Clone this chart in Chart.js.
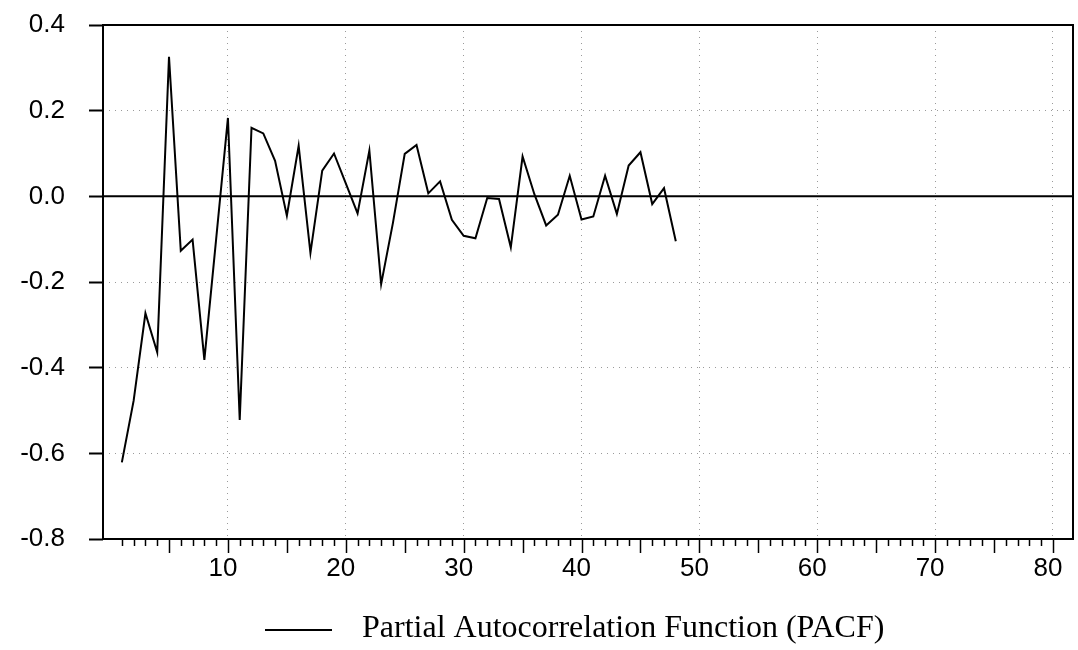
<!DOCTYPE html>
<html lang="en">
<head>
  <meta charset="UTF-8" />
  <title>PACF</title>
  <script src="https://cdn.jsdelivr.net/npm/chart.js"></script>
  <style>
    body {
      margin: 0;
      padding: 0;
      background: #fff;
    }
    #pacfChart {
      display: block;
    }
  </style>
</head>
<body>
  <canvas id="pacfChart" width="1078" height="650"></canvas>

  <script>
    // Lags and partial autocorrelation values
    const lags = [1, 2, 3, 4, 5, 6, 7, 8, 9, 10, 11, 12, 13, 14, 15, 16, 17, 18, 19, 20, 21, 22, 23, 24,
                  25, 26, 27, 28, 29, 30, 31, 32, 33, 34, 35, 36, 37, 38, 39, 40, 41, 42, 43, 44, 45, 46, 47, 48];
    const pacf = [-0.621, -0.477, -0.273, -0.364, 0.326, -0.127, -0.101, -0.382, -0.100, 0.183,
                  -0.522, 0.160, 0.147, 0.083, -0.045, 0.118, -0.132, 0.060, 0.100, 0.030,
                  -0.040, 0.107, -0.205, -0.062, 0.099, 0.120, 0.007, 0.035, -0.055, -0.092,
                  -0.098, -0.004, -0.006, -0.119, 0.093, 0.005, -0.068, -0.043, 0.048, -0.054,
                  -0.047, 0.048, -0.041, 0.072, 0.103, -0.018, 0.019, -0.105];
    const xTickLabels = [10, 20, 30, 40, 50, 60, 70, 80];
    const seriesLabel = 'Partial Autocorrelation Function (PACF)';

    const GRID = '#9a9a9a';
    const SANS = "'Liberation Sans', Arial, sans-serif";
    const SERIF = "'Liberation Serif', 'Times New Roman', serif";

    // frame, zero line and the small x tick marks
    const framePlugin = {
      id: 'frame',
      beforeDatasetsDraw(chart) {
        const { ctx, chartArea: a, scales: { y } } = chart;
        const y0 = y.getPixelForValue(0);
        ctx.save();
        ctx.strokeStyle = '#000';
        ctx.lineWidth = 2;
        ctx.beginPath();
        ctx.moveTo(a.left, y0);
        ctx.lineTo(a.right, y0);
        ctx.stroke();
        ctx.restore();
      },
      afterDatasetsDraw(chart) {
        const { ctx, chartArea: a, scales: { x } } = chart;
        ctx.save();
        ctx.strokeStyle = '#000';
        ctx.lineWidth = 2;
        ctx.strokeRect(a.left, a.top, a.right - a.left, a.bottom - a.top);
        ctx.lineWidth = 1.5;
        x.ticks.forEach(t => {
          const px = Math.round(x.getPixelForValue(t.value)) + 0.5;
          const len = t.value % 5 === 0 ? 14 : 7;
          ctx.beginPath();
          ctx.moveTo(px, a.bottom);
          ctx.lineTo(px, a.bottom + len);
          ctx.stroke();
        });
        ctx.restore();
      }
    };

    // legend drawn under the axis
    const legendPlugin = {
      id: 'pacfLegend',
      afterDraw(chart) {
        const { ctx, chartArea: a } = chart;
        const ds = chart.data.datasets[0];
        const x0 = a.left + 162;
        ctx.save();
        ctx.strokeStyle = ds.borderColor;
        ctx.lineWidth = 1.8;
        ctx.beginPath();
        ctx.moveTo(x0, 630);
        ctx.lineTo(x0 + 67, 630);
        ctx.stroke();
        ctx.fillStyle = '#000';
        ctx.font = '32px ' + SERIF;
        ctx.textBaseline = 'alphabetic';
        ctx.fillText(ds.label, x0 + 97, 637);
        ctx.restore();
      }
    };

    const ctx = document.getElementById('pacfChart').getContext('2d');
    new Chart(ctx, {
      type: 'line',
      data: {
        datasets: [{
          label: seriesLabel,
          data: lags.map((l, i) => ({ x: l, y: pacf[i] })),
          borderColor: '#000',
          borderWidth: 2,
          pointRadius: 0,
          tension: 0,
          fill: false
        }]
      },
      options: {
        responsive: false,
        animation: false,
        layout: { padding: { top: 25, right: 5, left: 0, bottom: 0 } },
        plugins: {
          legend: { display: false },
          tooltip: { enabled: false }
        },
        scales: {
          x: {
            type: 'linear',
            min: -0.6,
            max: 81.7,
            afterBuildTicks: scale => {
              const t = [];
              for (let i = 1; i <= 80; i++) t.push({ value: i });
              scale.ticks = t;
            },
            afterFit: scale => {
              scale.height = 111;
              scale.paddingLeft = 0;
              scale.paddingRight = 0;
            },
            grid: {
              drawTicks: false,
              lineWidth: 1,
              color: c => (c.tick && xTickLabels.includes(c.tick.value)) ? GRID : 'rgba(0,0,0,0)'
            },
            border: { display: false, dash: [1, 5] },
            ticks: {
              autoSkip: false,
              maxRotation: 0,
              padding: 14,
              labelOffset: -5,
              color: '#000',
              font: { family: SANS, size: 26 },
              callback: v => xTickLabels.includes(v) ? String(v) : ''
            }
          },
          y: {
            min: -0.8,
            max: 0.4,
            afterFit: scale => {
              scale.width = 103;
              scale.paddingTop = 0;
              scale.paddingBottom = 0;
            },
            grid: {
              tickLength: 14,
              tickWidth: 2,
              tickColor: '#000',
              lineWidth: 1,
              color: c => {
                const v = c.tick ? c.tick.value : 0;
                const edge = Math.abs(v) < 1e-6 || Math.abs(v - 0.4) < 1e-6 || Math.abs(v + 0.8) < 1e-6;
                return edge ? 'rgba(0,0,0,0)' : GRID;
              }
            },
            border: { display: false, dash: [1, 5] },
            ticks: {
              stepSize: 0.2,
              padding: 24,
              color: '#000',
              font: { family: SANS, size: 26 },
              callback: v => v.toFixed(1)
            }
          }
        }
      },
      plugins: [framePlugin, legendPlugin]
    });
  </script>
</body>
</html>
